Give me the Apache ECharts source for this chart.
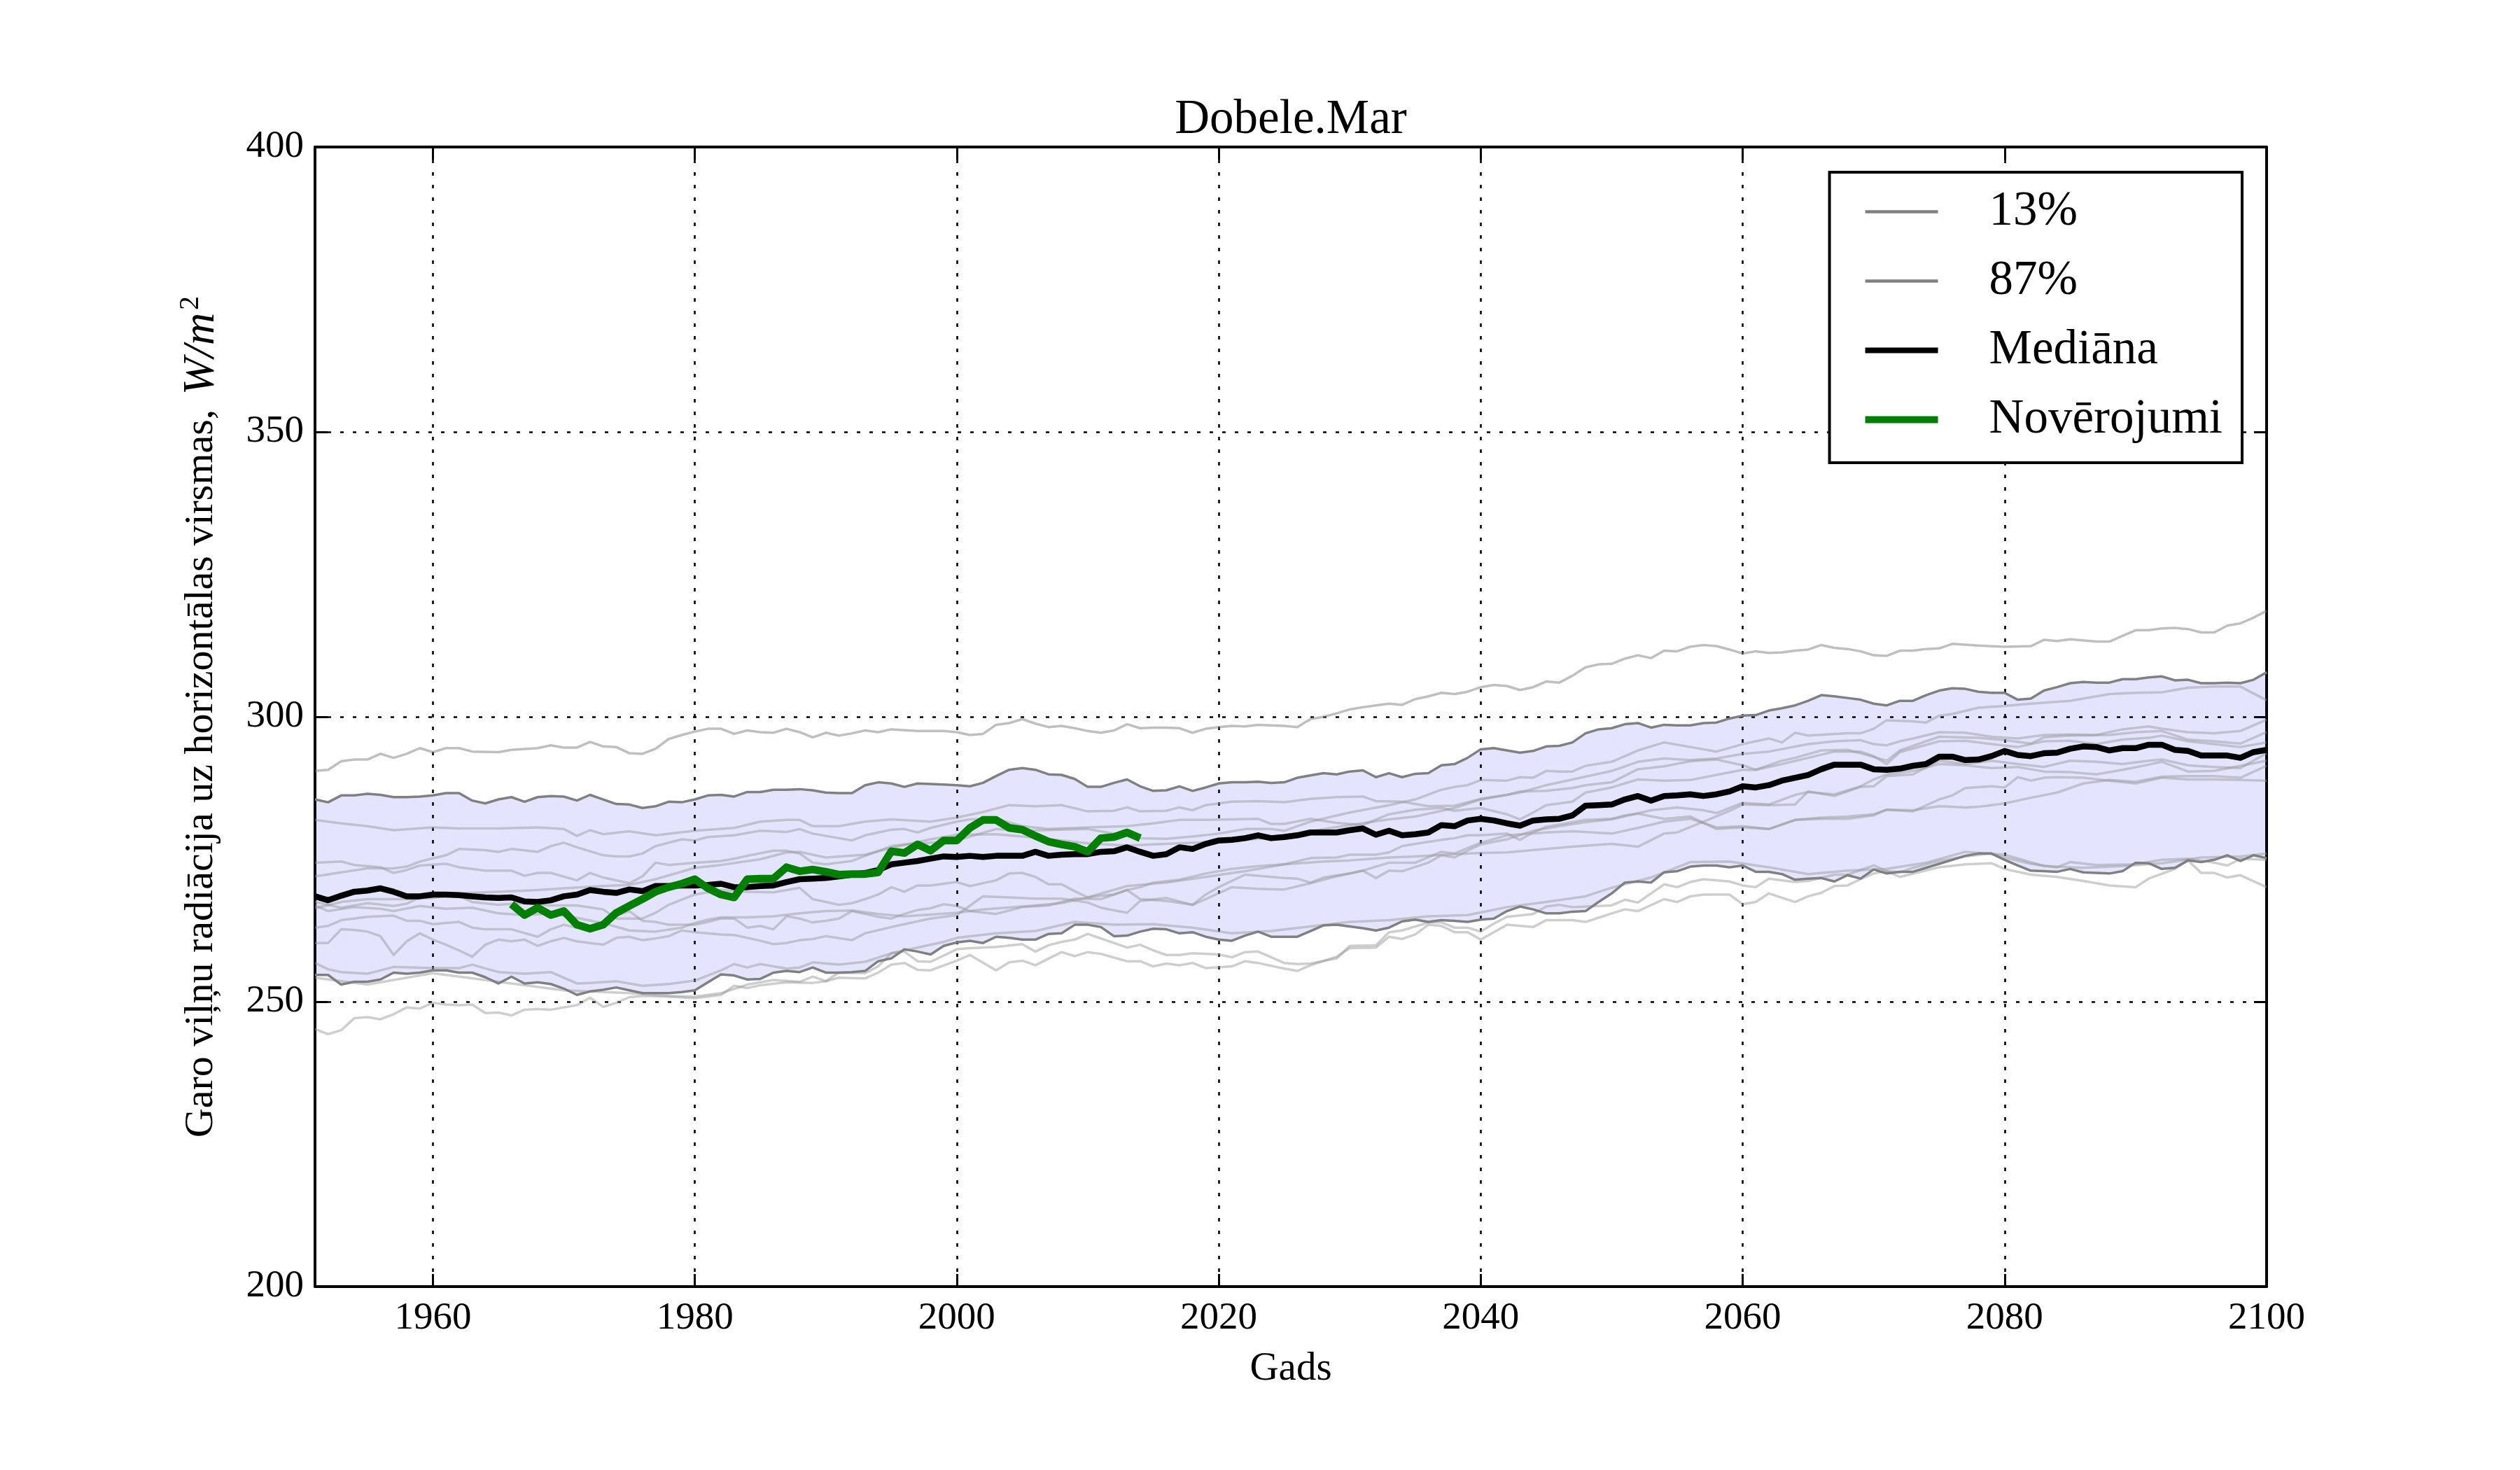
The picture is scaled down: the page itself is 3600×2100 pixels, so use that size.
<!DOCTYPE html>
<html><head><meta charset="utf-8">
<script src="https://cdn.jsdelivr.net/npm/echarts@6/dist/echarts.min.js"></script>
<style>html,body{margin:0;padding:0;background:#fff}#c{width:3600px;height:2100px}</style>
</head><body><div id="c"></div>
<script>
const FONT = "'Liberation Serif','Times New Roman',serif";
const firstYear = 1951;
const obsFirstYear = 1966;
const xTickValues = [1960,1980,2000,2020,2040,2060,2080,2100];

const median = [268.5,267.8,268.6,269.3,269.5,269.9,269.3,268.5,268.5,268.8,
 268.8,268.7,268.5,268.3,268.2,268.3,267.6,267.5,267.8,268.5,
 268.8,269.6,269.3,269.1,269.7,269.4,270.3,270.3,270.4,270.4,
 270.5,270.7,270.1,270.1,270.3,270.4,271.0,271.5,271.6,271.7,
 272.0,272.3,272.6,273.1,274.1,274.4,274.7,275.1,275.5,275.4,
 275.6,275.4,275.6,275.6,275.6,276.3,275.6,275.8,275.9,275.9,
 276.3,276.4,277.1,276.3,275.6,275.9,277.1,276.8,277.7,278.3,
 278.4,278.7,279.2,278.7,278.9,279.2,279.7,279.7,279.7,280.1,
 280.4,279.3,280.0,279.2,279.4,279.7,281.0,280.8,281.8,282.1,
 281.8,281.3,280.9,281.8,282.0,282.1,282.7,284.4,284.5,284.6,
 285.5,286.1,285.3,286.1,286.2,286.4,286.1,286.4,286.9,287.8,
 287.6,288.0,288.8,289.3,289.8,290.8,291.6,291.6,291.6,290.8,
 290.7,290.9,291.4,291.7,293.0,293.0,292.4,292.5,293.1,294.0,
 293.3,293.1,293.6,293.7,294.4,294.8,294.7,294.1,294.5,294.5,
 295.1,295.1,294.2,294.0,293.2,293.2,293.2,292.8,293.8,294.2];

const q87 = [285.5,285.0,286.2,286.2,286.5,286.3,285.9,285.9,286.0,286.2,
 286.6,286.6,285.3,284.8,285.5,285.9,285.1,285.9,286.1,286.0,
 285.3,286.3,285.5,284.7,284.6,284.0,284.3,285.1,285.0,285.5,
 286.2,286.3,286.0,286.8,286.8,287.2,287.2,287.3,287.1,286.7,
 286.6,286.6,288.0,288.5,288.3,287.7,288.3,288.2,288.1,288.0,
 287.8,288.4,289.6,290.7,291.0,290.7,289.9,289.8,289.1,287.7,
 287.7,288.4,289.0,287.8,287.0,287.1,287.8,287.0,287.6,288.3,
 288.5,288.5,288.6,288.4,288.5,289.3,289.7,290.1,289.9,290.4,
 290.6,289.4,290.1,289.4,290.0,290.1,291.5,291.7,292.8,294.3,
 294.5,294.1,293.7,294.0,294.8,294.9,295.5,297.1,297.8,298.0,
 298.7,298.9,298.1,298.6,298.5,298.5,298.9,299.0,299.7,300.2,
 300.3,301.1,301.5,302.0,302.8,303.8,303.6,303.3,303.0,302.3,
 302.0,302.8,302.8,303.8,304.6,305.0,304.9,304.4,304.2,304.2,
 303.0,303.2,304.6,305.2,305.9,306.1,306.0,306.0,306.6,306.6,
 306.9,307.1,306.4,306.5,305.9,305.9,306.0,305.9,306.5,307.8];

const q13 = [254.7,254.7,253.0,253.5,253.5,253.9,255.1,254.9,255.1,255.5,
 255.5,255.1,255.1,254.3,253.2,254.4,253.2,253.4,253.1,252.3,
 251.2,251.8,252.1,252.5,252.0,251.5,251.5,251.5,251.7,252.0,
 253.4,254.8,254.6,253.9,254.0,255.1,255.4,255.2,256.0,255.1,
 255.1,255.2,255.4,257.1,257.6,259.2,258.8,258.3,259.8,260.4,
 260.7,260.3,261.4,261.2,260.9,260.9,261.9,262.0,263.5,263.5,
 263.1,261.5,261.6,262.3,262.8,262.7,262.0,262.2,261.4,260.9,
 260.7,261.6,262.3,261.4,261.4,261.4,262.4,263.4,263.5,263.2,
 262.9,262.5,263.0,264.1,264.4,264.0,264.3,264.2,264.0,264.4,
 264.6,265.9,266.7,266.2,265.5,265.5,265.8,265.9,267.5,269.0,
 270.9,271.1,270.9,272.7,272.9,273.7,273.9,273.9,273.6,273.9,
 272.8,272.8,272.4,271.4,271.6,271.7,271.1,272.2,271.6,273.2,
 272.5,272.8,272.8,273.5,274.2,274.9,275.6,276.0,276.0,274.9,
 273.9,273.0,272.9,272.8,273.3,272.7,272.6,272.5,272.9,274.4,
 274.3,273.3,273.5,274.8,274.5,274.9,275.7,274.7,275.7,275.2];

const observed = [267.1,265.2,266.5,265.2,265.9,263.5,262.8,263.5,265.6,266.8,
 268.0,269.3,270.1,270.7,271.5,269.9,268.8,268.3,271.5,271.6,
 271.6,273.6,272.9,273.2,272.8,272.3,272.4,272.4,272.7,276.4,
 276.1,277.6,276.5,278.3,278.3,280.5,281.9,281.9,280.5,280.2,
 279.1,278.1,277.6,277.2,276.3,278.7,278.9,279.7,278.7];

const modelA = [[1951,290.5],[1952,290.7],[1953,292.2],[1954,292.5],[1955,292.5],[1956,293.5],[1957,292.8],[1958,293.5],[1959,294.5],[1960,293.8],[1961,294.5],[1962,294.5],[1963,293.9],[1965,293.8],[1966,294.2],[1968,294.5],[1969,295.0],[1970,294.6],[1971,294.6],[1972,295.6],[1973,294.8],[1974,294.7],[1975,293.6],[1976,293.5],[1977,294.4],[1978,296.1],[1979,296.8],[1980,297.4],[1981,297.9],[1982,297.9],[1983,297.0],[1984,297.6],[1985,297.3],[1986,297.2],[1987,297.9],[1988,297.3],[1989,296.4],[1990,297.2],[1991,296.7],[1992,297.1],[1993,297.6],[1994,297.3],[1995,297.8],[1997,297.5],[1999,297.5],[2000,297.3],[2001,296.8],[2002,297.0],[2003,298.6],[2004,298.9],[2005,299.6],[2006,298.8],[2007,298.2],[2008,298.4],[2009,298.0],[2010,297.5],[2011,297.2],[2012,297.6],[2013,298.7],[2014,298.0],[2015,298.1],[2016,298.1],[2017,298.0],[2018,297.2],[2019,297.9],[2020,298.2],[2021,298.4],[2022,298.3],[2023,298.6],[2025,298.4],[2026,298.2],[2027,299.6],[2028,300.0],[2029,300.6],[2030,301.3],[2031,301.7],[2032,302.0],[2033,302.3],[2034,302.1],[2035,303.1],[2036,303.6],[2037,304.2],[2038,304.0],[2039,304.4],[2040,305.2],[2041,305.6],[2042,305.4],[2043,304.7],[2044,305.2],[2045,306.2],[2046,306.0],[2047,307.2],[2048,308.7],[2049,309.2],[2050,309.3],[2051,310.2],[2052,310.8],[2053,310.3],[2054,311.6],[2055,311.5],[2056,312.3],[2057,312.6],[2058,312.4],[2059,311.8],[2060,311.1],[2061,311.5],[2062,311.2],[2063,311.3],[2064,311.6],[2065,311.8],[2066,312.6],[2067,312.1],[2068,311.9],[2069,311.5],[2070,310.8],[2071,310.7],[2072,311.6],[2073,311.6],[2074,311.9],[2075,312.0],[2076,312.8],[2078,312.5],[2080,312.3],[2082,312.4],[2083,313.5],[2084,313.3],[2085,313.6],[2087,313.2],[2088,313.2],[2089,314.2],[2090,315.2],[2091,315.2],[2092,315.5],[2093,315.6],[2094,315.4],[2095,314.8],[2096,314.8],[2097,316.0],[2098,316.4],[2099,317.4],[2100,318.6]];

const modelB = [[1951,281.9],[1953,281.3],[1955,280.8],[1957,280.1],[1960,280.6],[1962,280.4],[1965,280.4],[1968,280.6],[1970,280.3],[1971,279.1],[1972,280.1],[1973,279.4],[1975,279.9],[1977,279.2],[1980,280.0],[1983,280.5],[1985,281.6],[1987,281.9],[1988,281.9],[1989,280.8],[1991,280.8],[1993,281.6],[1995,282.0],[1998,281.6],[2000,282.3],[2002,283.3],[2004,284.5],[2006,284.3],[2008,284.5],[2010,283.4],[2012,283.5],[2013,284.1],[2014,283.4],[2016,283.5],[2017,284.1],[2018,283.6],[2019,284.5],[2021,285.1],[2023,285.2],[2025,285.0],[2027,285.6],[2029,285.9],[2031,286.0],[2032,285.2],[2034,285.1],[2035,284.7],[2036,284.3],[2038,284.4],[2040,285.6],[2042,286.3],[2043,286.9],[2045,287.0],[2047,287.5],[2048,288.0],[2050,288.5],[2052,290.8],[2054,291.3],[2056,292.2],[2058,292.5],[2060,291.5],[2061,290.7],[2063,292.3],[2064,292.8],[2066,294.1],[2068,294.2],[2069,293.6],[2071,292.3],[2072,294.1],[2073,294.9],[2075,296.5],[2078,296.3],[2080,295.9],[2082,295.3],[2083,296.4],[2085,296.7],[2088,296.8],[2090,297.3],[2092,297.5],[2094,296.0],[2096,295.7],[2098,295.3],[2100,297.3]];

const modelC = [[1951,266.4],[1953,267.5],[1955,268.0],[1958,268.0],[1960,268.2],[1962,269.0],[1965,269.3],[1968,269.6],[1970,269.9],[1973,270.3],[1975,270.5],[1977,271.5],[1980,273.5],[1982,274.0],[1985,275.0],[1987,276.2],[1988,276.3],[1990,275.3],[1993,275.8],[1995,277.0],[1998,278.5],[2000,279.3],[2003,279.4],[2005,279.0],[2008,278.3],[2010,277.8],[2013,277.4],[2015,277.6],[2018,277.9],[2020,278.0],[2023,278.6],[2025,279.2],[2028,280.3],[2030,281.0],[2033,282.0],[2035,282.5],[2038,284.0],[2040,285.5],[2043,286.7],[2045,288.0],[2048,289.5],[2050,290.5],[2052,292.1],[2054,292.7],[2056,292.4],[2058,292.7],[2060,293.5],[2062,293.9],[2065,295.2],[2067,295.7],[2069,295.9],[2070,295.2],[2071,295.0],[2072,295.7],[2073,296.2],[2075,297.3],[2077,297.2],[2079,296.5],[2081,296.2],[2083,296.8],[2085,296.9],[2087,296.8],[2089,297.8],[2091,298.3],[2092,297.9],[2094,297.3],[2096,297.1],[2098,297.5],[2100,299.5]];

const modelD = [[1951,274.4],[1953,274.6],[1954,274.0],[1956,273.6],[1957,272.6],[1958,273.1],[1959,273.9],[1961,274.2],[1962,273.6],[1964,273.0],[1966,273.0],[1967,272.1],[1968,272.6],[1969,272.6],[1971,271.3],[1972,272.6],[1973,271.8],[1975,270.8],[1976,272.0],[1977,274.4],[1978,274.0],[1980,274.4],[1982,274.7],[1983,275.1],[1984,275.6],[1986,276.5],[1987,276.5],[1988,276.0],[1989,274.4],[1990,274.1],[1991,274.4],[1992,274.7],[1993,275.6],[1995,277.3],[1996,277.6],[1998,277.9],[2000,278.3],[2003,280.3],[2005,280.0],[2010,280.3],[2012,279.5],[2014,278.7],[2016,278.6],[2018,279.0],[2020,279.5],[2022,280.3],[2024,280.3],[2025,280.0],[2027,281.6],[2030,283.2],[2033,284.5],[2035,285.5],[2037,287.2],[2038,287.7],[2039,288.0],[2040,288.9],[2042,288.8],[2043,289.4],[2044,289.3],[2045,290.5],[2046,290.4],[2047,290.4],[2048,291.4],[2050,292.1],[2052,294.1],[2054,295.5],[2056,294.7],[2058,293.9],[2060,295.2],[2062,296.2],[2063,295.5],[2064,297.2],[2065,296.7],[2068,297.1],[2069,297.1],[2070,297.9],[2071,299.4],[2073,299.2],[2074,299.0],[2075,300.2],[2076,300.5],[2078,301.6],[2080,301.9],[2082,302.3],[2085,302.8],[2088,304.0],[2090,304.2],[2092,304.3],[2094,305.1],[2096,305.3],[2098,305.3],[2100,302.9]];

const modelE = [[1951,272.0],[1953,272.7],[1955,273.4],[1957,273.4],[1958,273.7],[1959,274.6],[1961,275.7],[1962,276.8],[1964,276.6],[1965,276.3],[1966,276.8],[1968,276.3],[1969,277.3],[1970,277.9],[1971,277.1],[1973,275.7],[1974,275.5],[1975,275.5],[1976,276.0],[1977,277.3],[1979,278.5],[1980,278.3],[1981,278.9],[1983,279.2],[1985,280.0],[1987,279.8],[1988,280.3],[1989,279.5],[1991,278.7],[1992,278.3],[1993,279.2],[1995,280.2],[1996,280.3],[1997,279.7],[1998,280.5],[2000,281.6],[2001,282.0],[2003,282.1],[2005,280.8],[2007,280.3],[2010,280.6],[2013,280.8],[2015,281.3],[2017,281.9],[2019,281.9],[2021,282.0],[2023,282.1],[2024,281.2],[2025,281.2],[2027,282.1],[2029,281.4],[2031,281.0],[2033,282.9],[2035,283.7],[2037,284.0],[2038,283.5],[2040,284.0],[2042,282.9],[2043,282.0],[2044,283.2],[2045,284.5],[2047,285.1],[2048,286.7],[2050,287.6],[2052,289.0],[2054,288.8],[2056,288.9],[2058,289.8],[2060,290.7],[2061,290.7],[2063,291.7],[2065,292.8],[2067,293.9],[2069,293.9],[2070,293.1],[2071,291.7],[2072,293.8],[2075,295.7],[2077,295.8],[2079,295.2],[2081,294.7],[2083,295.7],[2085,295.8],[2087,295.2],[2089,296.0],[2091,296.3],[2092,296.7],[2094,295.7],[2096,295.2],[2098,294.7],[2100,295.5]];

const modelF = [[1951,267.5],[1953,266.5],[1955,267.3],[1957,266.8],[1958,267.2],[1959,268.3],[1961,268.5],[1962,268.6],[1963,267.5],[1965,267.0],[1967,267.3],[1969,266.9],[1971,266.9],[1973,266.2],[1974,264.6],[1976,264.6],[1977,265.6],[1978,267.0],[1980,268.8],[1982,269.6],[1984,269.3],[1986,269.2],[1988,270.0],[1989,268.0],[1990,267.5],[1991,267.0],[1992,267.3],[1993,268.0],[1994,268.8],[1995,270.1],[1996,269.3],[1997,270.4],[1998,270.4],[2000,271.0],[2001,270.3],[2003,271.3],[2004,272.5],[2005,272.6],[2006,271.9],[2007,270.6],[2008,270.6],[2009,269.4],[2010,268.3],[2011,268.6],[2012,268.8],[2013,269.6],[2014,270.1],[2015,270.9],[2017,271.4],[2019,272.5],[2021,273.3],[2023,273.8],[2025,274.1],[2027,275.2],[2029,275.3],[2030,275.8],[2032,275.8],[2033,276.2],[2034,277.3],[2035,277.7],[2037,278.4],[2038,278.7],[2039,279.2],[2040,279.2],[2042,279.5],[2043,278.4],[2044,279.7],[2045,280.7],[2047,281.5],[2048,281.9],[2050,282.1],[2051,282.7],[2052,283.0],[2054,282.1],[2056,282.5],[2058,280.3],[2060,280.6],[2062,280.3],[2064,281.9],[2066,282.1],[2068,282.1],[2070,282.7],[2071,283.7],[2073,283.4],[2075,285.5],[2076,286.2],[2077,287.5],[2079,287.8],[2080,287.6],[2081,289.4],[2082,288.8],[2083,289.3],[2084,289.4],[2086,289.3],[2088,288.8],[2090,288.3],[2092,289.3],[2094,289.0],[2096,289.0],[2098,288.9],[2100,288.8]];

const modelG = [[1951,263.0],[1952,263.3],[1953,264.3],[1955,264.9],[1957,265.1],[1958,264.2],[1959,264.2],[1960,263.6],[1962,264.0],[1963,263.0],[1964,262.7],[1966,262.7],[1968,261.4],[1969,262.7],[1970,263.5],[1971,263.0],[1973,263.5],[1974,265.1],[1975,265.9],[1976,264.2],[1977,264.0],[1978,263.5],[1980,263.5],[1981,264.0],[1982,264.6],[1983,264.6],[1984,263.0],[1985,263.3],[1986,262.7],[1987,265.0],[1988,264.6],[1989,263.9],[1990,264.2],[1991,264.6],[1992,265.9],[1993,265.4],[1994,264.9],[1995,264.6],[1996,265.4],[1997,266.1],[1998,266.4],[1999,267.1],[2000,266.8],[2001,265.9],[2003,265.4],[2005,266.6],[2007,266.9],[2009,268.1],[2011,268.0],[2013,269.6],[2014,268.0],[2016,267.7],[2018,267.0],[2019,268.0],[2021,270.1],[2023,269.8],[2025,269.7],[2027,270.8],[2029,272.0],[2031,273.0],[2033,274.4],[2035,274.4],[2037,276.3],[2038,276.0],[2040,277.9],[2042,279.2],[2045,279.7],[2047,279.9],[2050,279.5],[2052,280.5],[2054,281.6],[2056,282.1],[2058,280.6],[2060,280.8],[2062,280.3],[2064,281.9],[2066,282.3],[2068,282.5],[2070,282.9],[2071,283.7],[2073,283.6],[2075,284.3],[2077,284.1],[2078,284.2],[2080,284.8],[2082,285.8],[2084,286.7],[2086,288.3],[2088,288.9],[2090,288.6],[2092,289.5],[2094,289.6],[2096,289.6],[2098,289.3],[2100,291.4]];

const modelH = [[1951,260.3],[1952,260.3],[1953,262.7],[1954,262.6],[1955,262.3],[1956,261.5],[1957,258.2],[1958,260.6],[1959,262.0],[1960,260.9],[1961,260.0],[1962,259.0],[1963,257.9],[1964,260.0],[1965,260.9],[1966,260.6],[1967,260.9],[1968,259.8],[1969,260.6],[1970,261.2],[1971,260.6],[1972,260.3],[1973,260.0],[1974,261.2],[1975,261.4],[1976,260.8],[1977,261.1],[1978,261.5],[1979,262.5],[1980,262.2],[1982,261.8],[1983,261.7],[1985,260.7],[1986,260.1],[1987,260.3],[1988,260.8],[1989,261.0],[1990,261.5],[1992,260.8],[1993,262.0],[1995,263.1],[1996,263.6],[1997,264.1],[1998,264.6],[2000,265.2],[2002,268.5],[2004,268.3],[2006,268.1],[2008,268.1],[2010,267.4],[2011,266.5],[2013,265.6],[2014,267.7],[2016,268.2],[2018,267.0],[2019,268.8],[2020,270.1],[2022,272.3],[2025,271.7],[2026,271.6],[2027,270.9],[2028,271.8],[2030,272.5],[2031,273.0],[2032,271.7],[2033,273.0],[2034,272.9],[2036,274.4],[2037,275.7],[2038,275.3],[2039,276.5],[2040,277.6],[2042,278.5],[2044,280.0],[2046,280.8],[2048,281.5],[2050,282.0],[2053,283.6],[2055,284.1],[2057,283.6],[2058,283.1],[2060,284.9],[2062,284.6],[2064,286.3],[2065,286.8],[2067,286.4],[2069,287.8],[2070,289.0],[2071,289.9],[2073,290.5],[2075,291.7],[2077,291.5],[2079,291.0],[2081,291.2],[2083,290.4],[2085,290.3],[2087,289.9],[2089,290.7],[2091,291.6],[2092,292.1],[2094,290.4],[2096,290.5],[2098,291.4],[2100,292.3]];

const modelI = [[1951,256.8],[1952,255.7],[1953,255.2],[1955,254.9],[1957,256.1],[1960,255.9],[1962,255.9],[1963,256.5],[1965,255.2],[1967,254.9],[1969,255.2],[1971,253.2],[1972,253.3],[1974,253.6],[1976,252.8],[1978,253.1],[1980,253.7],[1982,255.5],[1983,256.6],[1984,256.0],[1985,256.6],[1986,256.2],[1987,255.8],[1988,256.0],[1989,256.9],[1991,256.5],[1993,257.0],[1995,258.5],[1997,259.5],[1999,260.5],[2000,261.2],[2003,262.0],[2006,262.4],[2009,264.0],[2012,263.5],[2015,263.6],[2018,263.0],[2021,262.0],[2024,262.4],[2027,263.2],[2030,264.0],[2033,264.3],[2036,265.0],[2039,265.2],[2042,266.6],[2045,267.5],[2048,268.5],[2050,270.0],[2053,271.8],[2056,274.5],[2059,274.6],[2062,273.6],[2065,272.4],[2068,273.0],[2071,273.3],[2074,274.4],[2077,276.3],[2080,275.8],[2083,273.8],[2086,273.5],[2089,273.8],[2092,274.3],[2095,275.3],[2098,275.5],[2100,276.0]];

const modelJ = [[1951,266.9],[1952,265.9],[1954,266.6],[1956,266.3],[1957,265.9],[1959,266.8],[1961,266.3],[1963,266.5],[1965,265.5],[1967,265.2],[1969,265.5],[1971,264.7],[1973,263.8],[1975,262.5],[1977,262.3],[1979,263.0],[1980,263.8],[1981,264.4],[1982,264.8],[1984,264.8],[1986,265.0],[1988,265.5],[1990,265.9],[1992,266.0],[1994,265.4],[1996,265.0],[1998,265.3],[2000,265.6],[2002,266.2],[2005,266.7],[2008,267.3],[2010,268.3],[2013,270.3],[2016,270.9],[2019,271.9],[2022,272.9],[2025,274.1],[2028,274.6],[2030,274.8],[2033,275.3],[2035,275.5],[2038,275.9],[2040,276.1],[2042,276.2],[2045,276.8],[2047,277.2],[2050,277.7],[2052,277.2],[2054,279.5],[2055,279.7],[2057,281.6],[2059,283.5],[2060,284.6],[2062,284.5],[2064,284.6],[2065,286.9],[2067,286.1],[2069,287.7],[2070,287.8],[2071,289.6],[2073,289.9],[2075,292.3],[2077,291.7],[2079,292.3],[2081,291.7],[2083,291.2],[2085,292.3],[2087,292.1],[2089,291.7],[2091,292.3],[2092,292.5],[2094,291.5],[2096,291.2],[2098,291.0],[2100,293.6]];

const modelL1 = [[1951,245.2],[1952,244.3],[1953,245.0],[1954,247.1],[1955,247.3],[1956,246.9],[1957,247.8],[1958,249.0],[1959,248.8],[1960,249.8],[1961,249.5],[1962,249.4],[1963,249.5],[1964,248.0],[1965,248.1],[1966,247.6],[1967,248.6],[1968,248.7],[1969,248.6],[1970,249.0],[1971,249.4],[1972,250.7],[1973,249.1],[1974,249.8],[1975,250.8],[1976,251.0],[1978,250.9],[1980,250.6],[1982,251.2],[1983,252.8],[1984,252.4],[1985,252.9],[1987,253.4],[1989,253.3],[1990,253.6],[1991,254.2],[1993,254.1],[1994,255.1],[1995,256.5],[1996,256.8],[1997,255.6],[1998,255.5],[2000,257.2],[2001,258.2],[2003,255.5],[2004,256.9],[2005,257.2],[2006,256.4],[2008,258.7],[2009,258.0],[2010,258.7],[2011,258.4],[2013,257.1],[2014,257.1],[2015,256.2],[2016,256.7],[2017,256.4],[2018,256.8],[2019,255.9],[2021,256.2],[2022,257.1],[2023,256.8],[2025,255.8],[2026,255.4],[2027,256.4],[2029,257.9],[2030,259.4],[2032,259.5],[2033,261.4],[2034,261.0],[2035,261.8],[2036,263.5],[2037,263.3],[2038,262.2],[2039,262.2],[2040,260.9],[2041,262.2],[2042,263.5],[2044,263.1],[2045,264.3],[2047,264.3],[2048,264.0],[2050,265.5],[2051,266.2],[2052,265.9],[2054,268.0],[2055,267.5],[2056,268.5],[2057,268.8],[2059,268.8],[2060,267.1],[2061,267.5],[2062,269.0],[2064,267.5],[2065,268.5],[2066,269.1],[2067,270.3],[2068,270.4],[2069,271.5],[2070,272.5],[2071,272.9],[2072,272.7],[2073,273.5],[2075,274.7],[2077,275.5],[2079,276.0],[2080,275.3],[2082,274.2],[2084,273.6],[2085,274.5],[2087,274.0],[2090,274.1],[2092,274.9],[2094,275.1],[2096,274.4],[2097,273.9],[2098,275.1],[2100,274.9]];

const modelL2 = [[1951,254.2],[1955,253.0],[1960,255.0],[1965,253.5],[1970,252.0],[1975,251.5],[1978,251.0],[1980,250.9],[1982,251.5],[1984,253.0],[1985,253.4],[1986,253.8],[1988,253.5],[1989,254.4],[1990,253.6],[1991,255.1],[1993,255.0],[1994,256.2],[1995,258.5],[1996,258.8],[1997,257.1],[1998,257.0],[2000,259.2],[2001,259.4],[2003,259.6],[2005,260.1],[2006,258.8],[2007,259.9],[2008,260.5],[2009,260.9],[2010,261.9],[2011,261.1],[2013,259.5],[2014,260.0],[2015,259.0],[2016,258.2],[2017,258.2],[2018,258.5],[2020,258.3],[2021,257.8],[2022,258.7],[2023,258.8],[2025,256.8],[2026,256.6],[2027,256.7],[2029,257.6],[2030,259.8],[2032,259.9],[2033,262.2],[2034,262.5],[2036,263.9],[2037,263.9],[2038,263.0],[2039,263.0],[2040,262.3],[2041,263.7],[2042,264.9],[2044,265.4],[2045,266.7],[2046,267.0],[2047,266.6],[2050,266.9],[2051,267.9],[2052,267.4],[2054,270.6],[2055,270.1],[2056,271.0],[2057,271.5],[2059,271.1],[2060,270.4],[2061,270.1],[2062,271.6],[2064,271.0],[2065,271.2],[2067,272.3],[2068,272.3],[2070,273.9],[2072,271.9],[2075,273.6],[2077,274.1],[2079,274.3],[2080,273.3],[2082,272.3],[2084,271.9],[2086,271.2],[2088,270.4],[2090,270.1],[2091,271.6],[2093,273.3],[2094,274.8],[2095,272.6],[2096,272.6],[2097,271.8],[2098,272.2],[2100,270.1]];

// build [year, value] pairs from yearly arrays
const pairs = (arr, start) => arr.map((v, i) => [start + i, v]);
const q13Pairs = pairs(q13, firstYear);
const q87Pairs = pairs(q87, firstYear);
const bandRows = q13.map((v, i) => [firstYear + i, v, q87[i]]);
const medianPairs = pairs(median, firstYear);
const obsPairs = pairs(observed, obsFirstYear);

const modelColor = 'rgba(150,150,150,0.47)';
function modelSeries(name, data, color, width) {
  return { name, type: 'line', data, symbol: 'none', silent: true, z: 3,
    lineStyle: { color, width, join: 'round' } };
}

const chart = echarts.init(document.getElementById('c'), null, { renderer: 'canvas', width: 3600, height: 2100 });

const axisLineStyle = { color: '#000', width: 4 };
const tickStyle = { color: '#000', width: 3 };
const gridLineStyle = { color: '#000', width: 2.6, type: [5, 13] };

const option = {
  animation: false,
  backgroundColor: '#fff',
  graphic: [{ type: 'text', x: 1844, y: 172, z: 10,
    style: { text: 'Dobele.Mar', fontFamily: FONT, fontSize: 69, fill: '#000', align: 'center', verticalAlign: 'middle' } }],
  grid: { left: 450, right: 362, top: 210, bottom: 262, containLabel: false },
  legend: {
    data: [
      { name: '13%', lineStyle: { width: 4.5, color: '#808080' } },
      { name: '87%', lineStyle: { width: 4.5, color: '#808080' } },
      { name: 'Mediāna', lineStyle: { width: 8, color: '#000' } },
      { name: 'Novērojumi', lineStyle: { width: 10, color: '#008000' } }
    ],
    orient: 'vertical', right: 397, top: 246,
    padding: [22, 28, 27, 46], itemGap: 30, itemWidth: 104, itemHeight: 20,
    borderColor: '#000', borderWidth: 4, backgroundColor: '#fff', borderRadius: 0,
    itemStyle: { opacity: 0 },
    textStyle: { fontFamily: FONT, fontSize: 69, color: '#000', lineHeight: 69, padding: [0, 0, 0, 68] },
    selectedMode: false
  },
  xAxis: [
    { type: 'value', min: 1951, max: 2100, position: 'bottom', splitNumber: 7,
      axisLine: { show: true, onZero: false, lineStyle: axisLineStyle },
      axisTick: { show: true, inside: true, length: 18, customValues: xTickValues, lineStyle: tickStyle },
      axisLabel: { customValues: xTickValues, margin: 18, fontFamily: FONT, fontSize: 55, color: '#000',
        formatter: v => String(v) },
      splitLine: { show: true, lineStyle: gridLineStyle },
      name: 'Gads', nameLocation: 'middle', nameGap: 90,
      nameTextStyle: { fontFamily: FONT, fontSize: 57, color: '#000' } },
    { type: 'value', min: 1951, max: 2100, position: 'top', splitNumber: 7,
      axisLine: { show: true, onZero: false, lineStyle: axisLineStyle },
      axisTick: { show: true, inside: true, length: 18, customValues: xTickValues, lineStyle: tickStyle },
      axisLabel: { show: false }, splitLine: { show: false } }
  ],
  yAxis: [
    { type: 'value', min: 200, max: 400, interval: 50, position: 'left',
      axisLine: { show: true, onZero: false, lineStyle: axisLineStyle },
      axisTick: { show: true, inside: true, length: 18, lineStyle: tickStyle },
      axisLabel: { margin: 16, fontFamily: FONT, fontSize: 55, color: '#000' },
      splitLine: { show: true, lineStyle: gridLineStyle },
      name: '{t|Garo viļņu radiācija uz horizontālas virsmas, }{m|W/m}{s|2}',
      nameLocation: 'middle', nameRotate: 90, nameGap: 126,
      nameTextStyle: { fontFamily: FONT, fontSize: 58, color: '#000',
        rich: {
          t: { fontFamily: FONT, fontSize: 58, color: '#000', lineHeight: 72 },
          m: { fontFamily: FONT, fontSize: 64, fontStyle: 'italic', color: '#000', lineHeight: 72, padding: [0, 4, 0, 6] },
          s: { fontFamily: FONT, fontSize: 40, color: '#000', lineHeight: 40, verticalAlign: 'top' }
        } } },
    { type: 'value', min: 200, max: 400, interval: 50, position: 'right',
      axisLine: { show: true, onZero: false, lineStyle: axisLineStyle },
      axisTick: { show: true, inside: true, length: 18, lineStyle: tickStyle },
      axisLabel: { show: false }, splitLine: { show: false } }
  ],
  series: [
    { name: 'band', type: 'custom', data: bandRows, silent: true, z: 1,
      encode: { x: 0, y: [1, 2] },
      renderItem: (params, api) => {
        if (params.dataIndex !== 0) return null;
        const pts = [];
        for (let i = 0; i < bandRows.length; i++) pts.push(api.coord([bandRows[i][0], bandRows[i][2]]));
        for (let i = bandRows.length - 1; i >= 0; i--) pts.push(api.coord([bandRows[i][0], bandRows[i][1]]));
        return { type: 'polygon', shape: { points: pts }, style: { fill: 'rgba(0,0,255,0.105)' }, silent: true };
      } },
    modelSeries('mA', modelA, 'rgba(128,128,128,0.5)', 3.5),
    modelSeries('mB', modelB, modelColor, 3.5),
    modelSeries('mC', modelC, modelColor, 3.5),
    modelSeries('mD', modelD, modelColor, 3.5),
    modelSeries('mE', modelE, modelColor, 3.5),
    modelSeries('mF', modelF, modelColor, 3.5),
    modelSeries('mG', modelG, modelColor, 3.5),
    modelSeries('mH', modelH, modelColor, 3.5),
    modelSeries('mI', modelI, modelColor, 3.5),
    modelSeries('mJ', modelJ, modelColor, 3.5),
    modelSeries('mL1', modelL1, modelColor, 3.5),
    modelSeries('mL2', modelL2, modelColor, 3.5),
    { name: '13%', type: 'line', data: q13Pairs, symbol: 'none', z: 4,
      lineStyle: { color: '#808080', width: 3.5, join: 'round' }, itemStyle: { color: '#808080' } },
    { name: '87%', type: 'line', data: q87Pairs, symbol: 'none', z: 4,
      lineStyle: { color: '#808080', width: 3.5, join: 'round' }, itemStyle: { color: '#808080' } },
    { name: 'Mediāna', type: 'line', data: medianPairs, symbol: 'none', z: 5,
      lineStyle: { color: '#000', width: 8.5, join: 'round' }, itemStyle: { color: '#000' } },
    { name: 'Novērojumi', type: 'line', data: obsPairs, symbol: 'none', z: 6,
      lineStyle: { color: '#008000', width: 11, join: 'round' }, itemStyle: { color: '#008000' } }
  ]
};
chart.setOption(option);
</script></body></html>
